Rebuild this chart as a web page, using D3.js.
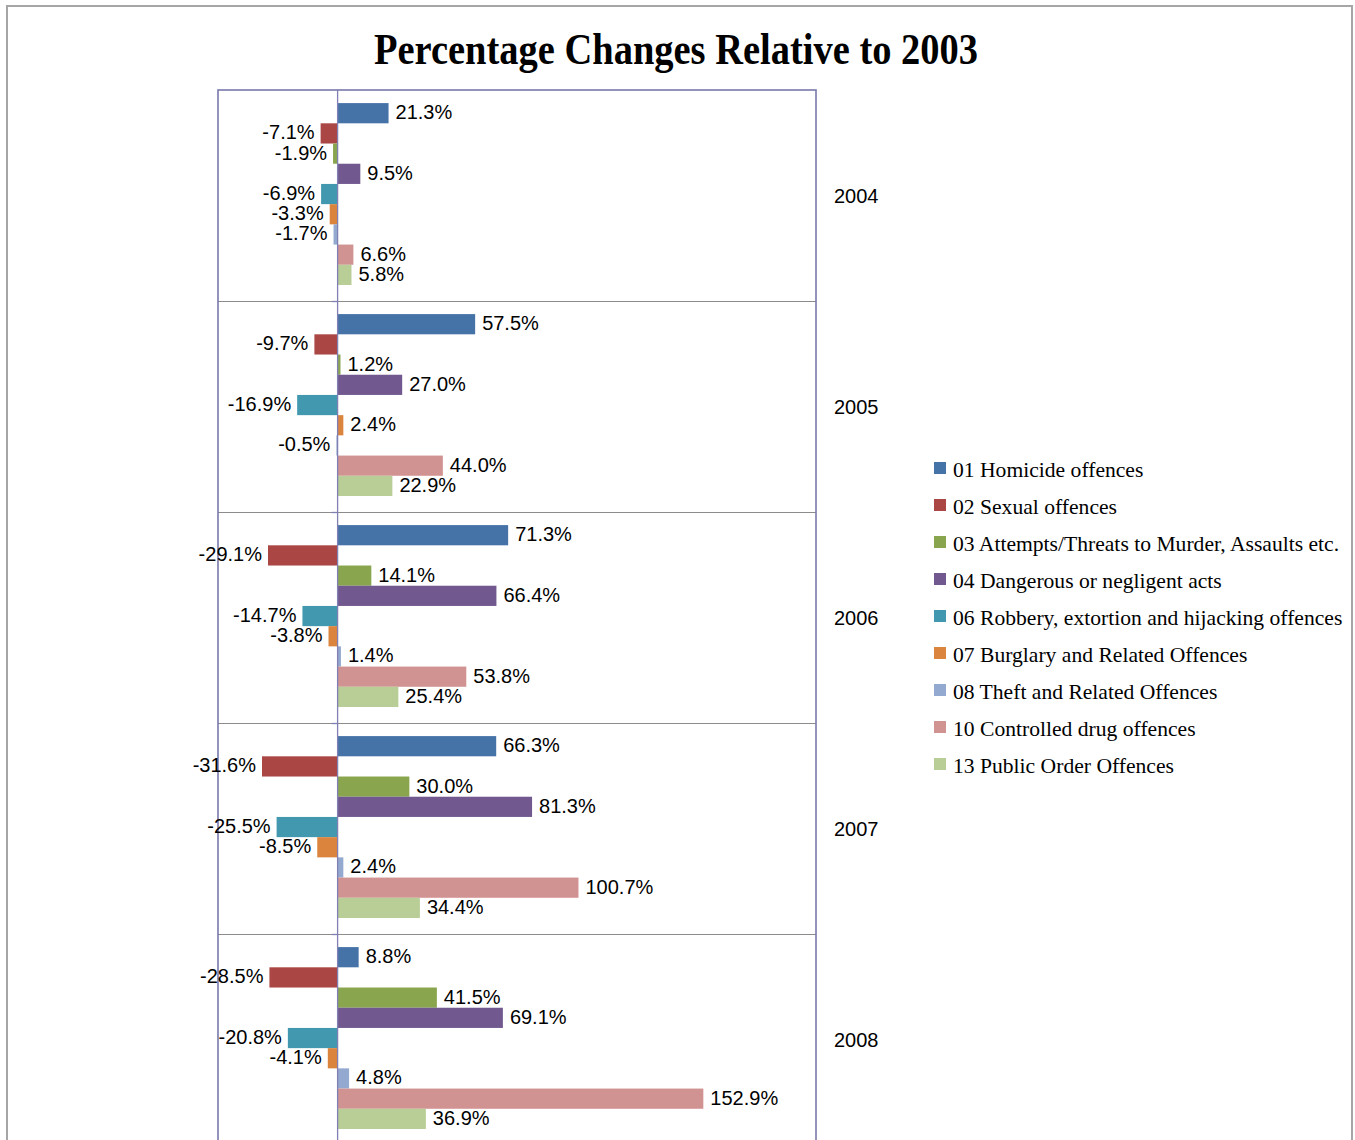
<!DOCTYPE html>
<html>
<head>
<meta charset="utf-8">
<script src="https://cdn.jsdelivr.net/npm/d3@7"></script>
<style>
  html, body { margin: 0; padding: 0; background: #fff; overflow: hidden; }
  svg { display: block; }
</style>
</head>
<body>
<svg id="chart" width="1355" height="1140"></svg>
<script>
// ---- data ----
const years = ["2004", "2005", "2006", "2007", "2008"];
const series = [
  "01 Homicide offences",
  "02 Sexual offences",
  "03 Attempts/Threats to Murder, Assaults etc.",
  "04 Dangerous or negligent acts",
  "06 Robbery, extortion and hijacking offences",
  "07 Burglary and Related Offences",
  "08 Theft and Related Offences",
  "10 Controlled drug offences",
  "13 Public Order Offences"
];
const colors = ["#4572A7", "#AA4643", "#89A54E", "#71588F", "#4198AF", "#DB843D", "#93A9CF", "#D19392", "#B9CD96"];
// values per series, one per year (2004..2008)
const homicide   = [21.3, 57.5, 71.3, 66.3, 8.8];
const sexual     = [-7.1, -9.7, -29.1, -31.6, -28.5];
const attempts   = [-1.9, 1.2, 14.1, 30.0, 41.5];
const dangerous  = [9.5, 27.0, 66.4, 81.3, 69.1];
const robbery    = [-6.9, -16.9, -14.7, -25.5, -20.8];
const burglary   = [-3.3, 2.4, -3.8, -8.5, -4.1];
const theft      = [-1.7, -0.5, 1.4, 2.4, 4.8];
const drugs      = [6.6, 44.0, 53.8, 100.7, 152.9];
const publicOrd  = [5.8, 22.9, 25.4, 34.4, 36.9];
const seriesValues = [homicide, sexual, attempts, dangerous, robbery, burglary, theft, drugs, publicOrd];
const titleText = "Percentage Changes Relative to 2003";

// ---- layout ----
const svg = d3.select("#chart");
const plot = { left: 218, right: 816, top: 90 };
const bandH = 211;

// outer frame
svg.append("rect")
  .attr("x", 7).attr("y", 6).attr("width", 1345).attr("height", 1200)
  .attr("fill", "#fff").attr("stroke", "#a6a6a6").attr("stroke-width", 2);

// title
const title = svg.append("text")
  .attr("x", 676).attr("y", 64)
  .attr("text-anchor", "middle")
  .attr("font-family", "'Liberation Serif', 'Times New Roman', serif")
  .attr("font-weight", "bold")
  .attr("font-size", 44)
  .attr("fill", "#000")
  .text(titleText);
title.attr("textLength", 604).attr("lengthAdjust", "spacingAndGlyphs");

const x = d3.scaleLinear().domain([-50, 200]).range([plot.left, plot.right]);
const y0 = d3.scaleBand().domain(years).range([plot.top, plot.top + bandH * years.length]).padding(0);
const y1 = d3.scaleBand().domain(series).range([0, y0.bandwidth()])
  .paddingInner(0).paddingOuter(0.72).align(0.45);

const rows = [];
years.forEach((yr, yi) => {
  series.forEach((s, si) => {
    rows.push({ year: yr, series: s, si: si, value: seriesValues[si][yi] });
  });
});

const fmt = v => v.toFixed(1) + "%";

const g = svg.append("g");

// separators between year groups
g.selectAll("line.sep")
  .data(years.slice(1))
  .join("line")
  .attr("class", "sep")
  .attr("x1", plot.left).attr("x2", plot.right)
  .attr("y1", d => Math.round(y0(d)) + 0.5).attr("y2", d => Math.round(y0(d)) + 0.5)
  .attr("stroke", "#8c8c8c").attr("stroke-width", 1.2);

// bars
g.selectAll("rect.bar")
  .data(rows)
  .join("rect")
  .attr("class", "bar")
  .attr("x", d => Math.min(x(0), x(d.value)))
  .attr("width", d => Math.abs(x(d.value) - x(0)))
  .attr("y", d => y0(d.year) + y1(d.series))
  .attr("height", y1.bandwidth())
  .attr("fill", d => colors[d.si]);

// zero axis line + ticks
g.append("line")
  .attr("x1", x(0)).attr("x2", x(0))
  .attr("y1", plot.top).attr("y2", plot.top + bandH * years.length)
  .attr("stroke", "#8080b4").attr("stroke-width", 1.3);
g.selectAll("line.tick")
  .data(years.slice(1))
  .join("line")
  .attr("class", "tick")
  .attr("x1", x(0) - 6).attr("x2", x(0))
  .attr("y1", d => Math.round(y0(d)) + 0.5).attr("y2", d => Math.round(y0(d)) + 0.5)
  .attr("stroke", "#8080b4").attr("stroke-width", 1.3);

// plot frame
g.append("rect")
  .attr("x", plot.left).attr("y", plot.top)
  .attr("width", plot.right - plot.left).attr("height", bandH * years.length + 20)
  .attr("fill", "none").attr("stroke", "#7878ac").attr("stroke-width", 1.6);

// data labels
g.selectAll("text.lbl")
  .data(rows)
  .join("text")
  .attr("class", "lbl")
  .attr("x", d => d.value >= 0 ? x(d.value) + 7 : x(d.value) - 6)
  .attr("y", d => y0(d.year) + y1(d.series) + y1.bandwidth() / 2 + 6)
  .attr("text-anchor", d => d.value >= 0 ? "start" : "end")
  .attr("font-family", "'Liberation Sans', Arial, sans-serif")
  .attr("font-size", 20)
  .attr("fill", "#000")
  .text(d => fmt(d.value));

// year labels
svg.selectAll("text.year")
  .data(years)
  .join("text")
  .attr("class", "year")
  .attr("x", 834)
  .attr("y", d => y0(d) + y0.bandwidth() / 2 + 7)
  .attr("font-family", "'Liberation Sans', Arial, sans-serif")
  .attr("font-size", 20)
  .attr("fill", "#000")
  .text(d => d);

// legend
const legend = svg.append("g").attr("transform", "translate(934, 462)");
const li = legend.selectAll("g.item")
  .data(series)
  .join("g")
  .attr("class", "item")
  .attr("transform", (d, i) => `translate(0, ${i * 37})`);
li.append("rect")
  .attr("width", 12).attr("height", 12)
  .attr("fill", (d, i) => colors[i]);
const lt = li.append("text")
  .attr("x", 19).attr("y", 14.5)
  .attr("font-family", "'Liberation Serif', 'Times New Roman', serif")
  .attr("font-size", 22)
  .attr("fill", "#000")
  .text(d => d);
// condense legend text horizontally to match the reference's narrow face
const refLen = lt.nodes()[2].getComputedTextLength();
const k = 390 / refLen * 0.99;
lt.each(function () {
  const L = this.getComputedTextLength();
  d3.select(this).attr("textLength", L * k).attr("lengthAdjust", "spacingAndGlyphs");
});
</script>
</body>
</html>
